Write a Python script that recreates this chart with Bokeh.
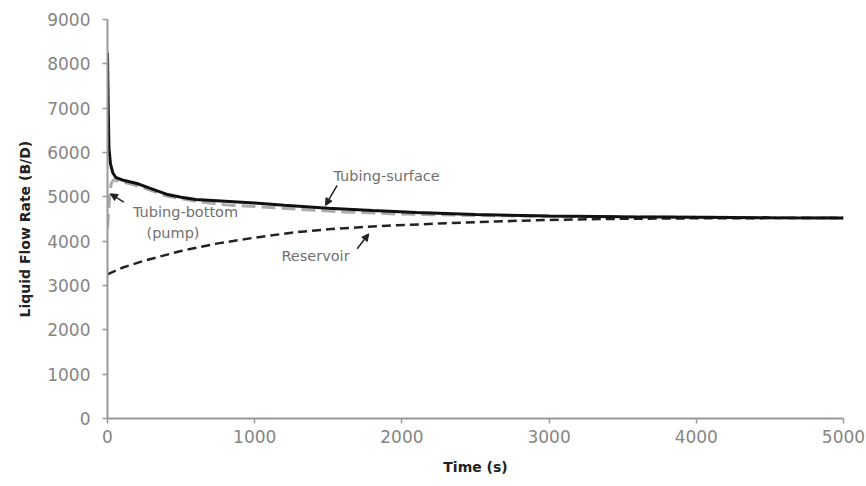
from bokeh.plotting import figure
from bokeh.models import Range1d, Arrow, NormalHead, Label, FixedTicker, Title
from bokeh.embed import file_html
from bokeh.resources import INLINE

# --- data ---
t_surface = [0, 5, 10, 20, 35, 55, 100, 200, 300, 400, 500, 600, 800, 1000, 1200, 1500, 1800, 2100, 2500, 3000, 3500, 4000, 4500, 5000]
q_surface = [8250, 7000, 6100, 5750, 5550, 5440, 5380, 5300, 5180, 5060, 4990, 4940, 4900, 4860, 4810, 4740, 4690, 4645, 4600, 4570, 4550, 4540, 4530, 4525]

t_pump = [0, 8, 16, 25, 40, 100, 250, 400, 600, 800, 1000, 1300, 1600, 2000, 2500, 3000, 4000, 5000]
q_pump = [4300, 4700, 5050, 5300, 5380, 5340, 5200, 5020, 4900, 4820, 4780, 4720, 4660, 4610, 4580, 4560, 4540, 4525]

t_res = [0, 100, 250, 500, 750, 1000, 1250, 1500, 1900, 2500, 3000, 3500, 4000, 5000]
q_res = [3250, 3400, 3560, 3780, 3950, 4080, 4190, 4270, 4350, 4430, 4480, 4505, 4515, 4525]

x_ticks = [0, 1000, 2000, 3000, 4000, 5000]
y_ticks = [0, 1000, 2000, 3000, 4000, 5000, 6000, 7000, 8000, 9000]

FONT = "DejaVu Sans"

p = figure(width=866, height=486, output_backend="svg", toolbar_location=None,
           x_range=Range1d(0, 5000), y_range=Range1d(0, 9000),
           min_border_left=107, min_border_right=23, min_border_top=19, min_border_bottom=68)
p.outline_line_color = None
p.grid.visible = False
p.background_fill_color = "white"
p.border_fill_color = "white"

p.line(t_pump, q_pump, line_color="#aaaaaa", line_width=3, line_dash="14 6")
p.line(t_res, q_res, line_color="#222222", line_width=2.5, line_dash="9 5")
p.line(t_surface, q_surface, line_color="#111111", line_width=3)

for ax in (p.xaxis[0], p.yaxis[0]):
    ax.axis_line_color = "#9a9a9a"
    ax.axis_line_width = 2
    ax.major_tick_line_color = "#9a9a9a"
    ax.major_tick_line_width = 1.5
    ax.major_tick_out = 5
    ax.major_tick_in = 0
    ax.minor_tick_line_color = None
    ax.major_label_text_color = "#858585"
    ax.major_label_text_font = FONT
    ax.major_label_text_font_size = "17px"
    ax.axis_label_text_font = FONT
    ax.axis_label_text_font_style = "bold"
    ax.axis_label_text_font_size = "14px"
    ax.axis_label_text_color = "#222222"

p.xaxis.ticker = FixedTicker(ticks=x_ticks)
p.yaxis.ticker = FixedTicker(ticks=y_ticks)
p.xaxis.axis_label = "Time (s)"
p.xaxis.major_label_standoff = 6
p.yaxis.major_label_standoff = 12
p.xaxis.axis_label_standoff = 13

# y-axis title as a side title (slightly below frame centre, as in the reference)
p.add_layout(Title(text="Liquid Flow Rate (B/D)", align="left", offset=101,
                   text_font=FONT, text_font_style="bold", text_font_size="14px",
                   text_color="#222222", standoff=24), "left")

# annotations
lab_col = "#707070"
def label(x, y, txt, align="center"):
    p.add_layout(Label(x=x, y=y, text=txt, text_font=FONT, text_font_size="14.5px",
                       text_color=lab_col, text_align=align, text_baseline="middle"))

label(1535, 5480, "Tubing-surface", "left")
label(530, 4650, "Tubing-bottom")
label(445, 4175, "(pump)")
label(1413, 3655, "Reservoir")

def arrow(x0, y0, x1, y1):
    p.add_layout(Arrow(x_start=x0, y_start=y0, x_end=x1, y_end=y1, line_color="#222222",
                       line_width=1.5,
                       end=NormalHead(size=7, fill_color="#222222", line_color="#222222")))

arrow(1560, 5256, 1481, 4805)
arrow(111, 4880, 20, 5069)
arrow(1696, 3828, 1775, 4166)

open("out.html", "w").write(file_html(p, INLINE))
